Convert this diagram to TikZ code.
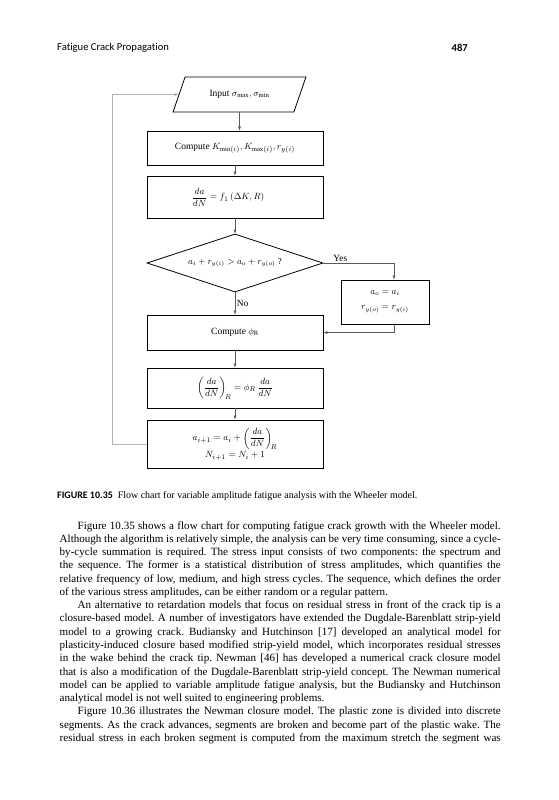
\documentclass[tikz,border=0pt]{standalone}
\usepackage{amsmath}
\usepackage{fontspec}
\setmainfont{Liberation Serif}
\newfontfamily\headfont[Ligatures=NoCommon]{Carlito}
\usetikzlibrary{shapes.geometric,arrows.meta}

\begin{document}
\begin{tikzpicture}[x=1pt,y=-1pt,
    box/.style={draw, line width=0.8pt, minimum width=176pt, inner sep=2pt, align=center,
        font=\fontsize{9.5}{12}\selectfont},
    flow/.style={draw=black!65, line width=0.5pt, -{Latex[length=4pt,width=3pt]}},
    lbl/.style={inner sep=1.5pt, font=\fontsize{9.5}{11}\selectfont}]

            % Define parameters
            \def\cx{235}     % X-position of the chart column
            \def\bw{176}     % Width of the boxes

            % Page frame
            \useasboundingbox (0,0) rectangle (558,800);
            \fill[white] (0,0) rectangle (558,800);

            % Running head
            \node[anchor=west, inner sep=0pt, font=\headfont\fontsize{10.6}{12}\selectfont] (runhead) at (57,48) {Fatigue Crack Propagation};
            \node[anchor=east, inner sep=0pt, font=\headfont\bfseries\fontsize{10.6}{12}\selectfont] (folio) at (468,48) {487};

            % Draw the chart boxes
            \node[box, shape=trapezium, trapezium left angle=60, trapezium right angle=120,
                trapezium stretches=true, minimum width=133pt, minimum height=35pt] (inp) at (239.5,94.5)
                {Input $\sigma_{\mathrm{max}}, \sigma_{\mathrm{min}}$};
            \node[box, minimum height=34pt] (cmpk) at (\cx,148) {Compute $K_{\mathrm{min}(i)}, K_{\mathrm{max}(i)}, r_{y(i)}$};
            \node[box, minimum height=42pt] (rate) at (\cx,197) {\hspace*{-14pt}$\dfrac{da}{dN} = f_1\left(\Delta K, R\right)$};
            \node[box, shape=diamond, aspect=3, inner sep=0pt, minimum width=\bw pt, minimum height=58pt,
                font=\fontsize{9}{11}\selectfont] (dia) at (\cx,263)
                {$a_i + r_{y(i)} > a_o + r_{y(o)}$ ?};
            \node[box, minimum width=88pt, minimum height=44pt, font=\fontsize{9}{11}\selectfont] (reset) at (385,302)
                {$a_o = a_i$\\[4pt] $r_{y(o)} = r_{y(i)}$};
            \node[box, minimum height=35pt] (phi) at (\cx,332.5) {Compute $\phi_{\mathrm{R}}$};
            \node[box, minimum height=40pt] (ret) at (\cx,388) {$\left(\dfrac{da}{dN}\right)_{\!R} = \phi_R\,\dfrac{da}{dN}$};
            \node[box, minimum height=48pt] (upd) at (\cx,444) {$a_{i+1} = a_i + \left(\dfrac{da}{dN}\right)_{\!R}$\\[1pt] $N_{i+1} = N_i + 1$};

            % Draw the connectors
            \draw[flow] (inp.south) -- (inp.south |- cmpk.north);
            \draw[flow] (cmpk) -- (rate);
            \draw[flow] (rate) -- (dia);
            \draw[flow] (dia) -- node[right, lbl] {No} (phi);
            \draw[flow] (dia.east) -| node[pos=0.12, above, lbl] {Yes} ([xshift=9pt]reset.north);
            \draw[flow] ([xshift=9pt]reset.south) |- (phi.east);
            \draw[flow] (phi) -- (ret);
            \draw[flow] (ret) -- (upd);
            \draw[flow, draw=black!30, line width=0.4pt] (upd.west) -- ++(-34,0) |- (inp.west);

            % Caption
            \node[anchor=west, inner sep=0pt, font=\fontsize{9.96}{12}\selectfont] (cap) at (57,496)
                {{\headfont\bfseries FIGURE 10.35}\enspace Flow chart for variable amplitude fatigue analysis with the Wheeler model.};

            % Running text
            \node[anchor=north west, inner sep=0pt, text width=441pt, align=justify,
                font=\fontsize{11.07}{13.28}\selectfont] (body) at (59.5,521) {\parindent=0pt\frenchspacing
                \hspace*{18pt}Figure 10.35 shows a flow chart for computing fatigue crack growth with the Wheeler model.\linebreak
                Although the algorithm is relatively simple, the analysis can be very time consuming, since a cycle-\linebreak
                by-cycle summation is required. The stress input consists of two components: the spectrum and\linebreak
                the sequence. The former is a statistical distribution of stress amplitudes, which quantifies the\linebreak
                relative frequency of low, medium, and high stress cycles. The sequence, which defines the order\linebreak
                of the various stress amplitudes, can be either random or a regular pattern.\par
                \hspace*{18pt}An alternative to retardation models that focus on residual stress in front of the crack tip is a\linebreak
                closure-based model. A number of investigators have extended the Dugdale-Barenblatt strip-yield\linebreak
                model to a growing crack. Budiansky and Hutchinson [17] developed an analytical model for\linebreak
                plasticity-induced closure based modified strip-yield model, which incorporates residual stresses\linebreak
                in the wake behind the crack tip. Newman [46] has developed a numerical crack closure model\linebreak
                that is also a modification of the Dugdale-Barenblatt strip-yield concept. The Newman numerical\linebreak
                model can be applied to variable amplitude fatigue analysis, but the Budiansky and Hutchinson\linebreak
                analytical model is not well suited to engineering problems.\par
                \hspace*{18pt}Figure 10.36 illustrates the Newman closure model. The plastic zone is divided into discrete\linebreak
                segments. As the crack advances, segments are broken and become part of the plastic wake. The\linebreak
                residual stress in each broken segment is computed from the maximum stretch the segment was\parfillskip=0pt\par};

\end{tikzpicture}
\end{document}
